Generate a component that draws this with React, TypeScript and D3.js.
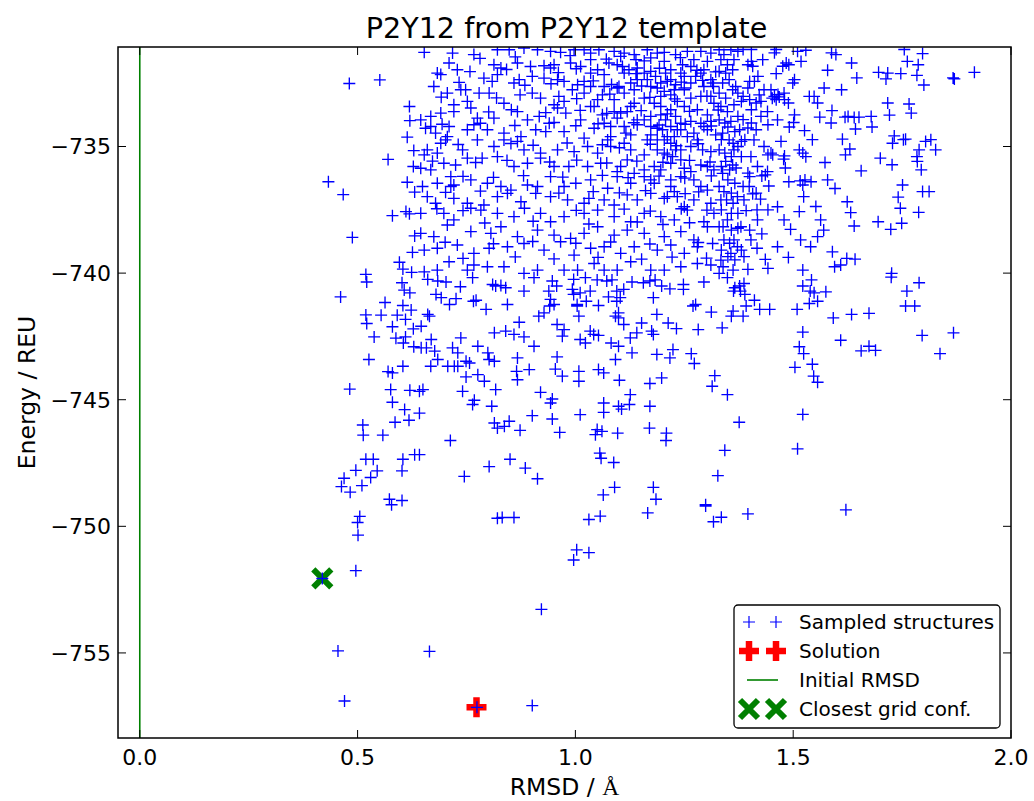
import React from "react";
import * as d3 from "d3";

// ---------- data (RMSD in Å, energy in REU) ----------
const xTicks = [0.0, 0.5, 1.0, 1.5, 2.0];
const yTicks = [-755, -750, -745, -740, -735];
const xDomain: [number, number] = [-0.05, 2.0];
const yDomain: [number, number] = [-758.36, -731.07];

const initialRmsd = 0.0;
const solution: [number, number] = [0.773, -757.15];
const closestGrid: [number, number] = [0.419, -752.06];

const sampledLeftTop: [number, number][] = [
  [0.481,-732.51],[0.551,-732.37],[0.619,-733.42],[0.620,-733.98],[0.614,-734.63],[0.629,-735.16],[0.570,-735.51],[0.628,-735.79],[0.433,-736.39],[0.614,-736.41],[0.467,-736.90],[0.631,-736.80],[0.580,-737.73],[0.611,-737.57],[0.619,-737.66],[0.488,-738.59],[0.631,-738.53],[0.626,-739.18],[0.596,-739.57],[0.604,-739.84],[0.624,-739.97],[0.519,-740.05],
];

const sampledLeftLow: [number, number][] = [
  [0.521,-740.35],[0.602,-740.38],[0.607,-740.67],[0.620,-740.78],[0.461,-740.94],[0.563,-741.16],[0.604,-741.28],[0.623,-741.46],[0.519,-741.65],[0.554,-741.66],[0.591,-741.66],[0.610,-741.83],[0.521,-741.99],[0.580,-742.12],[0.628,-742.20],[0.538,-742.52],[0.588,-742.57],[0.610,-742.52],[0.605,-742.76],[0.629,-742.91],[0.526,-743.41],[0.570,-743.89],[0.580,-743.94],[0.604,-743.68],[0.482,-744.58],[0.576,-744.60],[0.620,-744.63],[0.580,-745.10],[0.608,-745.39],[0.512,-746.00],[0.513,-746.40],[0.558,-746.40],[0.586,-745.89],[0.618,-745.81],[0.519,-747.35],[0.536,-747.35],[0.604,-747.35],[0.631,-747.17],[0.496,-747.79],[0.545,-747.81],[0.602,-747.81],[0.469,-748.10],[0.530,-748.07],[0.463,-748.43],[0.510,-748.39],[0.483,-748.65],[0.573,-748.93],[0.602,-748.98],[0.578,-749.15],[0.505,-749.61],[0.500,-749.85],[0.501,-750.35],[0.496,-751.75],[0.419,-752.06],[0.455,-754.92],[0.470,-756.90],
];

const sampledBottom: [number, number][] = [
  [0.821,-749.68],[0.832,-749.65],[0.859,-749.65],[1.031,-749.73],[1.057,-749.60],[1.166,-749.47],[1.299,-749.20],[1.317,-749.82],[1.003,-750.93],[1.031,-751.04],[0.996,-751.33],[0.922,-753.28],[0.665,-754.94],[0.774,-757.15],[0.901,-757.08],[1.335,-749.64],[1.396,-749.51],[1.621,-749.35],[1.567,-754.56],
];

const sampledMiddle: [number, number][] = [
  [0.661,-740.25],[0.684,-740.31],[0.703,-740.35],[0.680,-740.84],[0.692,-740.97],[0.711,-741.24],[0.726,-741.01],[0.736,-740.54],[0.766,-741.11],[0.772,-741.07],[0.764,-740.18],[0.810,-740.45],[0.817,-740.51],[0.829,-740.49],[0.840,-740.58],[0.795,-741.43],[0.844,-741.24],[0.882,-740.71],[0.905,-740.18],[0.947,-740.31],[0.957,-740.51],[0.939,-740.71],[0.943,-741.04],[0.951,-741.24],[0.941,-741.30],[0.993,-740.64],[0.996,-740.84],[1.011,-740.78],[1.034,-740.71],[1.004,-741.24],[1.025,-741.11],[1.053,-741.28],[0.996,-740.25],[1.023,-740.18],[1.050,-740.27],[1.072,-740.31],[1.084,-740.27],[1.076,-740.94],[1.095,-740.71],[1.103,-740.97],[1.111,-740.64],[1.095,-741.11],[1.130,-740.35],[1.156,-740.38],[1.171,-740.31],[1.183,-740.27],[1.198,-740.51],[1.179,-740.97],[1.217,-740.62],[1.248,-740.45],[1.248,-740.64],[1.295,-740.35],[1.270,-741.30],[1.276,-741.24],[1.312,-741.54],
  [0.661,-741.63],[0.665,-741.70],[0.646,-742.10],[0.669,-742.62],[0.646,-742.95],[0.658,-742.95],[0.677,-743.08],[0.684,-743.41],[0.668,-743.68],[0.707,-743.68],[0.722,-743.68],[0.730,-743.68],[0.737,-742.56],[0.718,-742.95],[0.730,-743.15],[0.749,-743.48],[0.757,-743.55],[0.776,-742.89],[0.799,-743.15],[0.802,-743.41],[0.814,-743.48],[0.814,-742.36],[0.840,-742.29],[0.859,-742.42],[0.882,-742.52],[0.871,-741.94],[0.905,-742.89],[0.867,-743.35],[0.865,-743.88],[0.867,-744.21],[0.894,-743.81],[0.776,-744.01],[0.791,-744.27],[0.749,-744.10],[0.741,-744.67],[0.768,-745.02],[0.764,-745.19],[0.808,-745.26],[0.817,-744.60],[0.642,-744.67],[0.650,-744.60],[0.642,-745.53],[0.920,-744.71],[0.947,-744.97],[0.943,-745.13],[0.901,-745.63],[0.947,-745.76],[0.916,-741.70],[0.928,-741.57],[0.958,-742.03],[0.974,-742.23],[0.970,-742.49],[1.008,-741.70],[1.004,-741.30],[0.958,-743.31],[0.954,-743.79],[0.970,-744.07],[1.008,-743.88],[1.008,-744.27],[1.011,-742.62],[1.023,-742.76],[1.034,-742.29],[1.042,-742.42],[1.053,-742.46],[1.053,-743.81],[1.065,-743.94],[1.082,-742.76],[1.099,-742.89],[1.092,-743.41],[1.092,-741.70],[1.099,-741.77],[1.111,-742.03],[1.099,-741.57],[1.126,-742.56],[1.141,-742.36],[1.130,-743.15],[1.152,-741.97],[1.187,-741.63],[1.213,-741.97],[1.232,-742.19],[1.175,-742.29],[1.179,-742.42],[1.187,-743.21],[1.217,-743.35],[1.224,-743.02],[1.266,-743.18],[1.273,-743.57],[1.282,-742.23],[1.101,-744.23],[1.126,-744.80],[1.124,-745.19],[1.099,-745.26],[1.106,-745.37],[1.065,-745.13],[1.065,-745.50],[1.171,-744.36],[1.198,-744.14],[1.171,-745.26],[1.314,-744.47],[1.320,-744.05],[1.011,-745.59],[1.050,-746.18],[1.061,-746.25],[1.046,-746.38],[1.097,-746.32],[1.170,-746.12],[1.209,-746.32],[1.208,-746.61],[0.964,-746.29],[0.873,-746.21],[0.814,-745.92],[0.821,-746.12],[0.837,-746.05],[0.848,-745.85],[0.713,-746.61],[0.642,-747.17],[0.802,-747.64],[0.850,-747.35],[0.885,-747.70],[0.913,-748.12],[0.745,-748.03],[1.056,-747.11],[1.059,-747.31],[1.088,-747.48],[1.064,-748.76],[1.090,-748.46],[1.179,-748.46],[1.185,-748.93],[1.299,-749.15],[1.327,-748.00],
];

const sampledRightMid: [number, number][] = [
  [1.349,-740.18],[1.366,-740.58],[1.377,-740.51],[1.387,-740.41],[1.379,-740.71],[1.363,-740.71],[1.389,-740.84],[1.411,-741.07],[1.392,-741.30],[1.423,-741.43],[1.446,-741.43],[1.362,-741.50],[1.358,-741.70],[1.385,-741.70],[1.337,-742.16],[1.522,-740.51],[1.542,-740.27],[1.539,-740.71],[1.548,-740.78],[1.575,-740.74],[1.537,-741.20],[1.556,-741.11],[1.509,-741.43],[1.592,-741.77],[1.634,-741.63],[1.674,-741.59],[1.725,-740.16],[1.761,-740.71],[1.789,-740.38],[1.758,-741.30],[1.779,-741.30],[1.522,-742.33],[1.609,-742.65],[1.514,-742.91],[1.524,-743.18],[1.656,-743.07],[1.674,-742.89],[1.689,-743.05],[1.796,-742.46],[1.868,-742.36],[1.837,-743.18],[1.504,-743.72],[1.544,-743.60],[1.547,-744.07],[1.556,-744.31],[1.349,-744.80],[1.522,-745.58],[1.376,-745.89],[1.510,-746.94],[1.343,-747.00],
];

const sampledRightTop: [number, number][] = [
  [1.916,-732.07],[1.870,-732.33],[1.867,-732.29],[1.800,-732.57],[1.784,-732.19],[1.787,-731.77],[1.762,-731.64],[1.797,-731.33],[1.755,-731.17],[1.747,-732.12],[1.717,-732.10],[1.713,-732.33],[1.696,-732.07],[1.646,-732.29],[1.634,-731.70],[1.598,-731.37],[1.588,-731.30],[1.579,-731.99],[1.571,-732.69],[1.611,-732.76],[1.717,-733.28],[1.766,-733.32],[1.771,-733.68],[1.721,-733.76],[1.679,-733.81],[1.681,-734.23],[1.651,-733.84],[1.640,-733.85],[1.626,-733.81],[1.619,-733.84],[1.643,-734.31],[1.589,-733.58],[1.587,-734.07],[1.561,-733.84],[1.548,-733.02],[1.556,-733.28],[1.526,-734.37],[1.544,-734.73],[1.613,-734.71],[1.630,-735.10],[1.620,-735.33],[1.732,-734.58],[1.753,-734.73],[1.728,-734.87],[1.758,-734.71],[1.816,-734.73],[1.804,-734.80],[1.827,-735.13],[1.789,-735.13],[1.784,-735.40],[1.785,-735.59],[1.794,-735.92],[1.700,-735.46],[1.727,-735.72],[1.656,-735.96],[1.573,-735.63],[1.751,-736.52],[1.797,-736.78],[1.812,-736.78],[1.741,-737.00],[1.746,-737.44],[1.788,-737.60],[1.749,-738.03],[1.724,-738.27],[1.695,-737.97],[1.624,-737.18],[1.632,-737.61],[1.640,-738.14],[1.579,-736.32],[1.596,-736.66],[1.552,-737.37],[1.563,-737.90],[1.570,-738.30],[1.556,-738.56],[1.590,-739.16],[1.623,-739.42],[1.642,-739.45],[1.595,-739.75],[1.609,-739.68],[1.522,-739.88],[1.726,-740.01],[1.489,-739.38],[1.494,-738.27],[1.428,-738.45],[1.436,-739.46],[1.442,-739.81],[1.396,-739.85],[1.417,-739.02],[1.524,-736.98],[1.514,-737.57],[1.516,-736.36],[1.527,-736.32],[1.541,-736.39],[1.522,-736.52],[1.490,-736.39],[1.444,-736.56],[1.428,-736.16],[1.436,-736.12],[1.415,-736.84],[1.425,-737.08],[1.442,-737.50],[1.417,-737.50],[1.478,-735.50],[1.482,-735.85],[1.472,-734.80],[1.480,-735.37],[1.449,-735.26],[1.442,-735.33],[1.453,-735.33],[1.514,-735.13],[1.522,-735.26],[1.529,-735.40],[1.503,-733.75],[1.491,-734.23],[1.501,-734.05],[1.489,-733.28],[1.480,-733.15],[1.468,-733.04],[1.449,-732.76],[1.457,-733.02],[1.461,-733.15],[1.465,-732.95],[1.537,-733.02],[1.503,-732.36],[1.499,-732.49],[1.490,-731.77],[1.484,-731.70],[1.476,-731.83],[1.461,-732.12],[1.518,-731.64],[1.529,-731.20],[1.510,-731.24],[1.461,-731.17],[1.457,-731.30],[1.430,-731.57],[1.404,-731.17],[1.385,-731.17],[1.373,-731.24],[1.404,-731.64],[1.396,-731.77],[1.407,-731.83],[1.419,-732.23],[1.411,-732.43],[1.400,-732.43],[1.396,-732.69],[1.373,-732.89],[1.385,-733.02],[1.381,-733.22],[1.400,-733.15],[1.415,-733.28],[1.426,-733.22],[1.404,-733.55],[1.373,-733.81],[1.385,-733.94],[1.404,-734.07],[1.396,-734.27],[1.415,-734.34],[1.442,-734.14],[1.343,-734.07],[1.350,-734.23],[1.335,-734.73],[1.366,-734.41],[1.377,-734.34],[1.362,-734.87],[1.373,-735.00],[1.381,-734.80],[1.389,-734.73],[1.343,-735.26],[1.358,-735.40],[1.381,-735.40],[1.335,-735.79],[1.354,-735.92],[1.369,-735.85],[1.350,-736.32],[1.366,-736.45],[1.385,-736.58],[1.396,-736.05],[1.400,-736.19],[1.358,-736.84],[1.347,-737.11],[1.362,-737.24],[1.335,-737.50],[1.358,-737.64],[1.373,-737.64],[1.392,-737.53],[1.407,-736.87],[1.339,-738.17],[1.358,-738.30],[1.373,-738.23],[1.400,-738.30],[1.354,-738.82],[1.335,-739.09],[1.381,-739.09],[1.350,-739.35],[1.366,-739.48],[1.339,-739.75],[1.362,-739.88],
];

const sampledRightEdge: [number, number][] = [
  [1.330,-731.18],[1.341,-731.37],[1.357,-731.18],[1.334,-731.57],[1.349,-731.77],[1.364,-731.57],[1.330,-732.03],[1.345,-732.10],[1.361,-731.97],[1.338,-732.49],[1.353,-732.36],[1.368,-732.63],[1.330,-732.89],[1.345,-733.09],[1.361,-732.76],[1.334,-733.42],[1.349,-733.62],[1.364,-733.35],[1.330,-733.95],[1.357,-734.01],[1.338,-734.47],[1.353,-734.74],[1.330,-735.13],[1.364,-735.13],[1.345,-735.59],[1.361,-735.73],[1.338,-736.06],[1.330,-736.58],[1.341,-736.78],[1.334,-737.11],[1.349,-737.90],[1.330,-738.17],[1.341,-738.69],[1.364,-738.69],[1.334,-739.49],[1.357,-739.22],[1.330,-740.01],
  [1.433,-732.76],[1.422,-732.96],[1.452,-733.09],[1.479,-732.89],[1.426,-733.81],[1.441,-733.62],[1.464,-733.95],[1.410,-734.74],[1.433,-735.00],[1.403,-735.40],[1.418,-735.79],[1.441,-735.99],[1.399,-736.58],[1.372,-736.98],[1.387,-737.11],[1.418,-737.90],[1.380,-738.17],[1.403,-738.69],[1.372,-738.96],[1.387,-739.35],[1.464,-738.96],[1.479,-737.90],[1.464,-737.38],[1.517,-738.69],[1.540,-738.96],
];

const sampledCoreUpper: [number, number][] = [
  [0.653,-731.28],[0.718,-731.31],[0.767,-731.37],[0.821,-731.18],[0.848,-731.18],[0.882,-731.11],[0.913,-731.18],[0.943,-731.24],[0.966,-731.28],[0.997,-731.18],[1.020,-731.18],[1.035,-731.31],[1.054,-731.18],[1.089,-731.24],[1.112,-731.31],[1.135,-731.37],[1.165,-731.18],[1.188,-731.31],[1.204,-731.28],[1.230,-731.37],[1.257,-731.24],[1.288,-731.24],[1.311,-731.31],
  [0.710,-731.70],[0.729,-731.97],[0.683,-732.10],[0.813,-731.77],[0.829,-731.90],[0.867,-731.70],[0.897,-731.84],[0.928,-731.81],[0.943,-731.90],[0.951,-731.77],[0.989,-731.70],[1.035,-731.57],[1.051,-731.97],[1.077,-731.70],[1.096,-731.77],[1.108,-731.84],[1.123,-731.97],[1.142,-731.90],[1.173,-732.03],[1.204,-731.64],[1.219,-731.97],[1.246,-731.77],[1.265,-731.84],[1.288,-732.10],[1.303,-731.64],
  [0.675,-732.63],[0.691,-732.16],[0.790,-732.30],[0.809,-732.43],[0.821,-732.16],[0.859,-732.49],[0.871,-732.36],[0.901,-732.23],[0.928,-732.30],[0.959,-732.36],[0.974,-732.43],[1.005,-732.56],[1.020,-732.43],[1.066,-732.16],[1.100,-732.63],[1.127,-732.49],[1.165,-732.36],[1.188,-732.69],[1.211,-732.43],[1.230,-732.56],[1.250,-732.69],[1.276,-732.23],[1.311,-732.36],[1.317,-732.63],
  [0.706,-732.89],[0.748,-732.76],[0.752,-733.22],[0.779,-732.89],[0.802,-732.89],[0.836,-733.29],[0.901,-732.89],[0.920,-733.09],[0.951,-733.35],[0.974,-733.22],[0.993,-732.76],[1.020,-732.89],[1.035,-733.42],[1.062,-732.96],[1.089,-733.15],[1.112,-732.89],[1.135,-733.29],[1.158,-733.09],[1.181,-733.29],[1.204,-732.82],[1.219,-732.96],[1.234,-733.22],[1.250,-732.76],[1.265,-733.09],[1.288,-733.02],[1.318,-733.29],
  [0.645,-733.95],[0.668,-733.81],[0.691,-733.68],[0.721,-733.35],[0.721,-733.62],[0.760,-733.48],[0.775,-733.88],[0.813,-733.88],[0.867,-733.62],[0.890,-733.95],[0.917,-733.81],[0.940,-734.08],[0.959,-733.48],[0.978,-733.68],[1.012,-733.95],[1.043,-733.42],[1.062,-733.75],[1.096,-733.88],[1.119,-733.62],[1.142,-733.95],[1.173,-733.81],[1.196,-733.75],[1.219,-733.55],[1.242,-734.08],[1.265,-734.01],[1.295,-734.21],[1.311,-734.01],
  [0.656,-734.28],[0.679,-734.47],[0.706,-734.61],[0.710,-734.21],[0.752,-734.34],[0.767,-734.14],[0.798,-734.34],[0.836,-734.47],[0.875,-734.61],[0.909,-734.34],[0.932,-734.41],[0.974,-734.41],[1.020,-734.67],[1.043,-734.28],[1.081,-734.21],[1.116,-734.47],[1.142,-734.14],[1.173,-734.54],[1.200,-734.34],[1.227,-734.61],[1.242,-734.34],[1.272,-734.47],[1.303,-734.34],[1.322,-734.54],
];

const sampledCoreLower: [number, number][] = [
  [0.660,-735.13],[0.691,-734.87],[0.702,-734.74],[0.741,-735.13],[0.775,-734.74],[0.813,-735.00],[0.836,-734.74],[0.867,-734.80],[0.882,-735.13],[0.920,-735.26],[0.959,-735.13],[0.997,-735.20],[1.028,-735.00],[1.051,-735.26],[1.081,-735.00],[1.112,-734.87],[1.127,-735.13],[1.158,-735.33],[1.188,-735.13],[1.211,-735.33],[1.242,-735.13],[1.265,-735.00],[1.311,-735.20],
  [0.645,-735.86],[0.668,-735.92],[0.698,-735.66],[0.725,-735.73],[0.752,-735.46],[0.786,-735.46],[0.821,-735.40],[0.859,-735.79],[0.890,-735.66],[0.920,-735.46],[0.951,-735.79],[0.985,-735.79],[1.028,-735.79],[1.058,-735.66],[1.096,-735.99],[1.119,-735.53],[1.158,-735.92],[1.181,-735.79],[1.219,-735.66],[1.250,-735.86],[1.288,-735.73],[1.318,-735.92],
  [0.649,-736.58],[0.683,-736.45],[0.714,-736.19],[0.721,-736.52],[0.760,-736.32],[0.798,-736.45],[0.829,-736.58],[0.852,-736.72],[0.890,-736.52],[0.913,-736.58],[0.943,-736.19],[0.974,-736.58],[1.001,-736.45],[1.035,-736.32],[1.074,-736.65],[1.096,-736.19],[1.127,-736.45],[1.158,-736.19],[1.181,-736.45],[1.219,-736.58],[1.242,-736.19],[1.272,-736.32],[1.303,-736.72],
  [0.660,-736.98],[0.679,-737.24],[0.721,-737.05],[0.752,-737.24],[0.790,-737.31],[0.821,-736.98],[0.844,-736.85],[0.875,-737.18],[0.909,-736.85],[0.943,-736.98],[0.982,-737.11],[1.020,-737.24],[1.031,-737.05],[1.066,-737.11],[1.089,-737.31],[1.119,-736.91],[1.142,-737.11],[1.173,-736.85],[1.204,-737.05],[1.234,-736.98],[1.272,-737.11],[1.311,-737.24],
  [0.645,-737.64],[0.698,-737.64],[0.721,-737.90],[0.760,-737.44],[0.783,-737.51],[0.821,-737.64],[0.859,-737.77],[0.920,-737.64],[0.943,-737.97],[0.974,-737.77],[1.020,-737.64],[1.051,-737.51],[1.089,-737.77],[1.127,-737.97],[1.158,-737.64],[1.196,-737.77],[1.227,-737.90],[1.257,-737.51],[1.295,-737.97],[1.318,-737.64],
  [0.645,-738.43],[0.675,-738.56],[0.706,-738.10],[0.760,-738.36],[0.806,-738.43],[0.829,-738.17],[0.867,-738.56],[0.913,-738.30],[0.951,-738.50],[0.989,-738.63],[1.020,-738.43],[1.051,-738.17],[1.089,-738.50],[1.119,-738.30],[1.158,-738.43],[1.204,-738.56],[1.242,-738.36],[1.272,-738.69],[1.303,-738.17],
  [0.653,-739.09],[0.683,-739.02],[0.729,-738.89],[0.767,-739.22],[0.802,-739.02],[0.844,-738.96],[0.882,-738.83],[0.928,-739.09],[0.966,-738.76],[0.997,-739.29],[1.035,-739.02],[1.066,-738.96],[1.104,-739.22],[1.135,-738.96],[1.188,-739.09],[1.219,-738.89],[1.250,-739.22],[1.280,-738.96],[1.315,-738.83],
  [0.653,-739.95],[0.683,-739.88],[0.710,-739.55],[0.752,-739.88],[0.767,-739.68],[0.798,-739.75],[0.836,-739.75],[0.882,-740.01],[0.913,-739.88],[0.974,-739.88],[1.005,-739.88],[1.043,-739.62],[1.066,-739.88],[1.096,-739.88],[1.127,-739.55],[1.173,-739.88],[1.204,-739.88],[1.242,-739.75],[1.280,-739.62],[1.311,-739.68],
];

const sampledCoreExtra: [number, number][] = [
  [1.184,-732.23],[1.207,-732.10],[1.196,-733.02],[1.227,-732.76],[1.196,-733.42],[1.207,-733.95],[1.230,-733.81],[1.188,-734.28],[1.211,-734.61],[1.219,-734.87],[1.230,-735.13],[1.223,-735.40],[1.204,-734.74],[1.188,-734.74],[1.173,-734.21],[1.158,-733.95],[1.257,-734.61],[1.280,-734.74],[1.292,-735.13],[1.250,-733.42],[1.280,-733.55],[1.303,-733.75],[1.315,-732.49],[1.295,-732.63],[1.127,-733.42],[1.104,-733.68],[1.096,-732.69],[1.135,-732.76],[1.158,-732.10],[1.219,-736.32],[1.227,-736.78],[1.112,-734.21],[1.127,-734.54],[1.081,-734.61],[1.066,-734.08],[1.089,-733.62],[1.051,-733.15],[1.066,-732.63],[1.035,-732.63],[1.035,-732.10],[1.012,-731.84],[1.112,-732.10],[1.139,-731.57],[1.173,-731.50],[1.250,-732.23],[1.265,-732.49],[0.737,-732.76],[0.668,-734.21],[0.683,-735.26],[0.653,-735.33],[0.714,-736.58],
  [1.104,-731.44],[1.142,-732.36],[1.173,-732.63],[1.196,-732.49],[1.219,-732.36],[1.242,-732.10],[1.272,-731.57],[1.295,-731.97],[1.311,-733.02],[1.288,-734.08],[1.234,-734.34],[1.219,-734.21],[1.204,-735.26],[1.242,-735.53],[1.265,-735.99],[1.196,-735.92],[1.173,-736.32],[1.135,-736.06],[1.104,-735.79],[1.074,-734.74],[1.165,-734.74],[1.211,-736.98],[1.250,-737.38],[1.288,-736.58],[1.303,-735.79],
];

const sampledCoreFill: [number, number][] = [
  [0.781,-731.52],[0.862,-731.46],[0.988,-731.41],[1.071,-731.55],[1.158,-731.62],[1.241,-731.49],
  [0.758,-732.04],[0.842,-731.96],[0.961,-732.08],[1.002,-731.93],[1.139,-732.12],[1.193,-731.91],[1.279,-731.99],[1.322,-732.05],
  [0.733,-732.47],[0.884,-732.58],[0.944,-732.52],[1.041,-732.41],[1.083,-732.55],[1.152,-732.61],[1.243,-732.46],[1.292,-732.39],
  [0.692,-733.05],[0.819,-733.08],[0.873,-732.96],[0.962,-733.02],[1.003,-733.11],[1.079,-732.93],[1.171,-733.06],[1.228,-733.12],[1.302,-733.01],
  [0.801,-733.63],[0.853,-733.55],[0.932,-733.66],[1.011,-733.57],[1.072,-733.69],[1.151,-733.58],[1.211,-733.71],[1.262,-733.61],[1.328,-733.56],
  [0.694,-734.12],[0.782,-734.08],[0.861,-734.17],[0.951,-734.05],[1.001,-734.18],[1.052,-734.10],[1.134,-734.06],[1.192,-734.15],[1.252,-734.12],[1.312,-734.19],
  [0.731,-734.92],[0.852,-734.88],[0.903,-734.95],[0.981,-734.86],[1.062,-734.93],[1.101,-735.05],[1.172,-734.91],[1.232,-734.97],[1.282,-734.89],
  [0.672,-735.58],[0.771,-735.63],[0.843,-735.55],[0.941,-735.61],[1.003,-735.54],[1.072,-735.65],[1.141,-735.58],[1.201,-735.62],[1.262,-735.55],[1.309,-735.61],
  [0.742,-736.18],[0.812,-736.22],[0.881,-736.15],[0.971,-736.21],[1.062,-736.14],[1.121,-736.23],[1.192,-736.17],[1.251,-736.25],[1.312,-736.16],
  [0.702,-736.81],[0.782,-736.76],[0.962,-736.84],[1.041,-736.78],[1.101,-736.83],[1.161,-736.74],[1.252,-736.86],[1.283,-736.79],
  [0.682,-737.46],[0.742,-737.53],[0.883,-737.44],[1.002,-737.52],[1.112,-737.47],[1.172,-737.55],[1.243,-737.46],[1.302,-737.51],
  [0.792,-738.02],[0.903,-737.95],[1.031,-738.06],[1.142,-737.98],[1.201,-738.08],[1.262,-738.01],
  [0.701,-738.78],[0.812,-738.84],[0.902,-738.75],[1.001,-738.82],[1.081,-738.77],[1.171,-738.85],[1.282,-738.79],
  [0.742,-739.42],[0.862,-739.36],[0.951,-739.44],[1.052,-739.38],[1.152,-739.45],[1.222,-739.37],[1.301,-739.41],
];

const sampled: [number, number][] = [
  ...sampledLeftTop, ...sampledLeftLow, ...sampledBottom, ...sampledMiddle,
  ...sampledRightMid, ...sampledRightTop, ...sampledRightEdge,
  ...sampledCoreUpper, ...sampledCoreLower, ...sampledCoreExtra, ...sampledCoreFill,
];

const legendLabels = ["Sampled structures", "Solution", "Initial RMSD", "Closest grid conf."];

// ---------- layout ----------
const W = 1034, H = 801;
const PL = 118, PR = 1011, PT = 47, PB = 738;
const FONT = "'DejaVu Sans', Verdana, sans-serif";

const plus = (cx: number, cy: number, h: number) => `M${cx - h},${cy}H${cx + h}M${cx},${cy - h}V${cy + h}`;
const cross = (cx: number, cy: number, h: number) => `M${cx - h},${cy - h}L${cx + h},${cy + h}M${cx - h},${cy + h}L${cx + h},${cy - h}`;

export default function App() {
  const x = d3.scaleLinear().domain(xDomain).range([PL, PR]);
  const y = d3.scaleLinear().domain(yDomain).range([PB, PT]);
  const fx = d3.format(".1f");
  const fy = d3.format("d");

  const bluePath = sampled.map(([r, e]) => plus(x(r), y(e), 6)).join("");

  const lgX = 734, lgY = 605, lgW = 266, lgH = 123;
  const rowY = [622, 651, 680, 709];
  const mk = [749, 776];

  return (
    <svg width={W} height={H} style={{ position: "absolute", left: 0, top: 0, background: "#fff" }}>
      <defs>
        <clipPath id="plotClip">
          <rect x={PL} y={PT} width={PR - PL} height={PB - PT} />
        </clipPath>
      </defs>
      <rect x={0} y={0} width={W} height={H} fill="#fff" />

      <g clipPath="url(#plotClip)">
        <line x1={x(initialRmsd)} x2={x(initialRmsd)} y1={PT} y2={PB} stroke="#008000" strokeWidth={1.6} />
        <path d={plus(x(solution[0]), y(solution[1]), 10)} stroke="#ff0000" strokeWidth={6.5} fill="none" />
        <path d={cross(x(closestGrid[0]), y(closestGrid[1]), 9)} stroke="#008000" strokeWidth={6} fill="none" />
        <path d={bluePath} stroke="#0000ff" strokeWidth={1.35} fill="none" />
      </g>

      {/* frame */}
      <rect x={PL} y={PT} width={PR - PL} height={PB - PT} fill="none" stroke="#000" strokeWidth={1.5} />

      {/* ticks */}
      {xTicks.map((t) => (
        <g key={"xt" + t}>
          <line x1={x(t)} x2={x(t)} y1={PB} y2={PB - 8} stroke="#000" strokeWidth={1} />
          <line x1={x(t)} x2={x(t)} y1={PT} y2={PT + 8} stroke="#000" strokeWidth={1} />
          <text x={x(t)} y={PB + 27} textAnchor="middle" fontFamily={FONT} fontSize={22} fill="#000">{fx(t)}</text>
        </g>
      ))}
      {yTicks.map((t) => (
        <g key={"yt" + t}>
          <line x1={PL} x2={PL + 8} y1={y(t)} y2={y(t)} stroke="#000" strokeWidth={1} />
          <line x1={PR} x2={PR - 8} y1={y(t)} y2={y(t)} stroke="#000" strokeWidth={1} />
          <text x={PL - 7} y={y(t)} dy="0.36em" textAnchor="end" fontFamily={FONT} fontSize={22} fill="#000">{fy(t)}</text>
        </g>
      ))}

      {/* titles */}
      <text x={(PL + PR) / 2 + 2} y={38} textAnchor="middle" fontFamily={FONT} fontSize={28.6} fill="#000">P2Y12 from P2Y12 template</text>
      <text x={(PL + PR) / 2} y={795} textAnchor="middle" fontFamily={FONT} fontSize={23.5} fill="#000">
        RMSD / <tspan fontFamily="'Liberation Serif', 'DejaVu Serif', serif">Å</tspan>
      </text>
      <text transform={`translate(35, ${(PT + PB) / 2}) rotate(-90)`} textAnchor="middle" fontFamily={FONT} fontSize={23.5} fill="#000">Energy / REU</text>

      {/* legend */}
      <rect x={lgX} y={lgY} width={lgW} height={lgH} rx={4} ry={4} fill="#fff" stroke="#000" strokeWidth={1.3} />
      <path d={mk.map((m) => plus(m, rowY[0], 6)).join("")} stroke="#0000ff" strokeWidth={1.2} fill="none" />
      <path d={mk.map((m) => plus(m, rowY[1], 10)).join("")} stroke="#ff0000" strokeWidth={6.5} fill="none" />
      <line x1={747} x2={778} y1={rowY[2]} y2={rowY[2]} stroke="#008000" strokeWidth={1.6} />
      <path d={mk.map((m) => cross(m, rowY[3], 9)).join("")} stroke="#008000" strokeWidth={6} fill="none" />
      {legendLabels.map((l, i) => (
        <text key={l} x={799} y={rowY[i]} dy="0.36em" fontFamily={FONT} fontSize={20} fill="#000">{l}</text>
      ))}
    </svg>
  );
}
